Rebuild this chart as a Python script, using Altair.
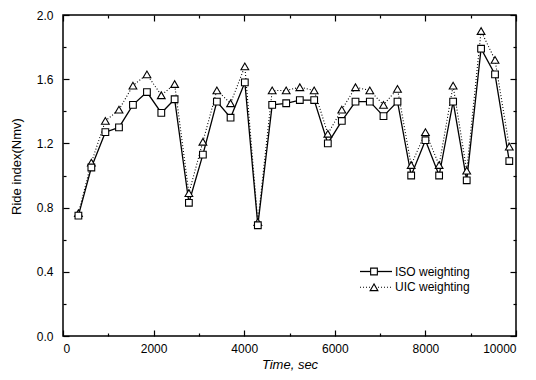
import altair as alt
import pandas as pd

# ---- data ----
time_sec = [340, 626, 935, 1236, 1544, 1853, 2170, 2464, 2779, 3088, 3397, 3699,
            4014, 4301, 4618, 4927, 5228, 5545, 5846, 6155, 6457, 6773, 7075, 7384,
            7686, 8001, 8303, 8612, 8912, 9229, 9537, 9852]
iso = [0.75, 1.05, 1.27, 1.30, 1.44, 1.52, 1.39, 1.475, 0.83, 1.13, 1.46, 1.36,
       1.58, 0.69, 1.44, 1.45, 1.47, 1.47, 1.20, 1.34, 1.46, 1.46, 1.37, 1.46,
       1.00, 1.22, 1.00, 1.46, 0.97, 1.79, 1.63, 1.09]
uic = [0.765, 1.08, 1.34, 1.41, 1.56, 1.63, 1.50, 1.57, 0.89, 1.21, 1.53, 1.45,
       1.68, 0.71, 1.53, 1.53, 1.55, 1.53, 1.26, 1.41, 1.55, 1.53, 1.44, 1.54,
       1.065, 1.27, 1.065, 1.56, 1.03, 1.90, 1.72, 1.18]

x_major = [0, 2000, 4000, 6000, 8000, 10000]
x_all = [0, 1000, 2000, 3000, 4000, 5000, 6000, 7000, 8000, 9000, 10000]
y_major = [0.0, 0.4, 0.8, 1.2, 1.6, 2.0]
y_all = [0.0, 0.2, 0.4, 0.6, 0.8, 1.0, 1.2, 1.4, 1.6, 1.8, 2.0]

legend_labels = ["ISO weighting", "UIC weighting"]

W, H = 453, 321
FONT = "Liberation Sans"

df_iso = pd.DataFrame({"time": time_sec, "value": iso})
df_uic = pd.DataFrame({"time": time_sec, "value": uic})
df_all = pd.concat([df_iso, df_uic], ignore_index=True)

xs = alt.Scale(domain=[0, 10000], nice=False, zero=False)
ys = alt.Scale(domain=[0, 2], nice=False)

x_tick_size = {"condition": {"test": "datum.value % 2000 === 0", "value": 6}, "value": 3}
y_tick_size = {"condition": {"test": "round(datum.value * 10) % 4 === 0", "value": 6}, "value": 3}

# label axes
x_lab = alt.Axis(orient="bottom", values=x_major, ticks=False, domain=False, grid=False,
                 labelPadding=7, labelFontSize=12, labelColor="black", labelFont=FONT,
                 format="d", title="Time, sec", titleFont=FONT, titleFontSize=13,
                 titleFontStyle="italic", titleFontWeight="normal", titleColor="black",
                 titleY=28, titleBaseline="middle")
y_lab = alt.Axis(orient="left", values=y_major, ticks=False, domain=False, grid=False,
                 labelPadding=10, labelFontSize=12, labelColor="black", labelFont=FONT,
                 format=".1f", title="Ride index(Nmv)", titleFont=FONT, titleFontSize=13,
                 titleFontWeight="normal", titleColor="black", titleAngle=270,
                 titleX=-47, titleY=151, titleBaseline="middle", titleAlign="center")


def tick_axis(orient, offset, values, size):
    return alt.Axis(orient=orient, offset=offset, values=values, labels=False,
                    domain=False, grid=False, ticks=True, tickSize=size,
                    tickColor="black", tickWidth=1.2, title=None)


base_iso = alt.Chart(df_iso)
base_uic = alt.Chart(df_uic)

line_iso = base_iso.mark_line(color="black", strokeWidth=1.3).encode(
    x=alt.X("time:Q", scale=xs, axis=x_lab),
    y=alt.Y("value:Q", scale=ys, axis=y_lab),
)
line_uic = base_uic.mark_line(color="black", strokeWidth=1.1, strokeDash=[1, 2]).encode(
    x=alt.X("time:Q", scale=xs, axis=None),
    y=alt.Y("value:Q", scale=ys, axis=None),
)
pts_uic = base_uic.mark_point(shape="triangle-up", size=60, filled=True, fill="white",
                              stroke="black", strokeWidth=1.1, opacity=1).encode(
    x=alt.X("time:Q", scale=xs, axis=None),
    y=alt.Y("value:Q", scale=ys, axis=None),
)
pts_iso = base_iso.mark_point(shape="square", size=45, filled=True, fill="white",
                              stroke="black", strokeWidth=1.1, opacity=1).encode(
    x=alt.X("time:Q", scale=xs, axis=None),
    y=alt.Y("value:Q", scale=ys, axis=None),
)

# inward ticks on all four sides
ticks_a = alt.Chart(df_all).mark_point(opacity=0).encode(
    x=alt.X("time:Q", scale=xs, axis=tick_axis("top", -H, x_all, x_tick_size)),
    y=alt.Y("value:Q", scale=ys, axis=tick_axis("right", -W, y_all, y_tick_size)),
)
ticks_b = alt.Chart(df_all).mark_point(opacity=0).encode(
    x=alt.X("time:Q", scale=xs, axis=tick_axis("bottom", -H, x_all, x_tick_size)),
    y=alt.Y("value:Q", scale=ys, axis=tick_axis("left", -W, y_all, y_tick_size)),
)

# manual legend (line + marker + label), inside the plot, lower right
one = pd.DataFrame({"label": [legend_labels[0]]})
two = pd.DataFrame({"label": [legend_labels[1]]})
ly1, ly2 = 256.5, 272.3
lg_line1 = alt.Chart(one).mark_rule(color="black", strokeWidth=1.3).encode(
    x=alt.value(297), x2=alt.value(329), y=alt.value(ly1))
lg_pt1 = alt.Chart(one).mark_point(shape="square", size=45, filled=True, fill="white",
                                   stroke="black", strokeWidth=1.1, opacity=1).encode(
    x=alt.value(311), y=alt.value(ly1))
lg_txt1 = alt.Chart(one).mark_text(align="left", baseline="middle", fontSize=12,
                                   font=FONT, color="black").encode(
    x=alt.value(332), y=alt.value(ly1), text="label:N")
lg_line2 = alt.Chart(two).mark_rule(color="black", strokeWidth=1.1, strokeDash=[1, 2]).encode(
    x=alt.value(297), x2=alt.value(329), y=alt.value(ly2))
lg_pt2 = alt.Chart(two).mark_point(shape="triangle-up", size=60, filled=True, fill="white",
                                   stroke="black", strokeWidth=1.1, opacity=1).encode(
    x=alt.value(311), y=alt.value(ly2))
lg_txt2 = alt.Chart(two).mark_text(align="left", baseline="middle", fontSize=12,
                                   font=FONT, color="black").encode(
    x=alt.value(332), y=alt.value(ly2), text="label:N")

chart = alt.layer(
    line_iso, line_uic, pts_uic, pts_iso, ticks_a, ticks_b,
    lg_line1, lg_pt1, lg_txt1, lg_line2, lg_pt2, lg_txt2,
).resolve_axis(x="independent", y="independent").properties(
    width=W, height=H,
    autosize=alt.AutoSizeParams(type="none"),
    padding={"left": 55, "top": 7, "right": 12, "bottom": 36},
    background="white",
).configure(font=FONT).configure_view(stroke="black", strokeWidth=1.5)

chart.save("out.html", embed_options={"renderer": "svg", "actions": False})
